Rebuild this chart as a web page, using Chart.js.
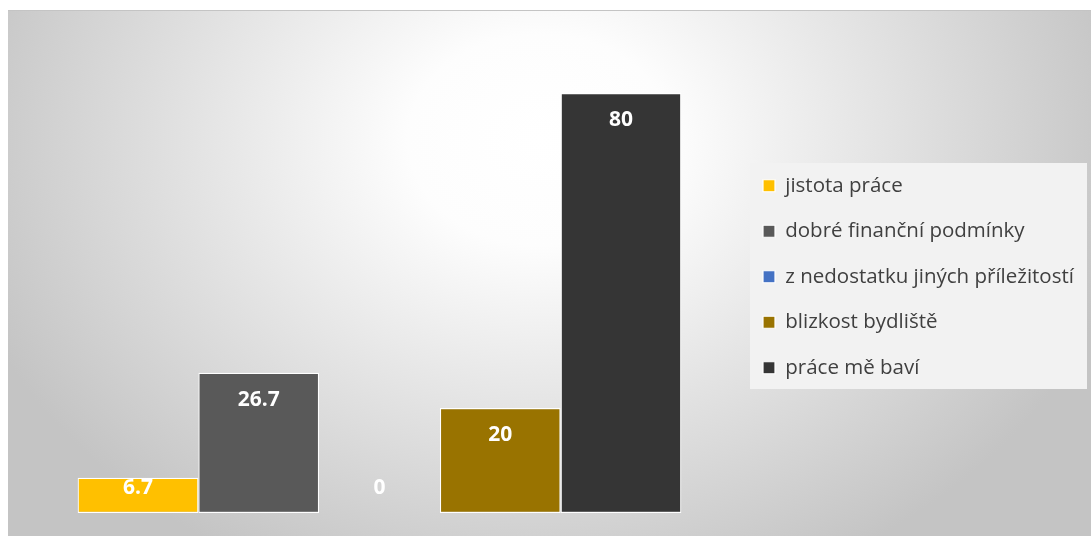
<!DOCTYPE html>
<html lang="cs">
<head>
<meta charset="utf-8">
<title>Proč pracujete</title>
<script src="https://cdn.jsdelivr.net/npm/chart.js@4/dist/chart.umd.min.js"></script>
<style>
  html, body { margin: 0; padding: 0; background: #ffffff; }
  .frame {
    position: absolute;
    left: 8px;
    top: 10px;
    width: 1083px;
    height: 525px;
    border-top: 1px solid #c4c4c4;
  }
  canvas { display: block; }
</style>
</head>
<body>
<div class="frame">
  <canvas id="duvody" width="1083" height="525"></canvas>
</div>
<script>
// kategorie (jen jedna skupina sloupců)
const CATEGORIES = [''];

// názvy řad
const SERIES_NAMES = [
  'jistota práce',
  'dobré finanční podmínky',
  'z nedostatku jiných příležitostí',
  'blizkost bydliště',
  'práce mě baví',
];

// hodnoty řad (%)
const SERIES_VALUES = [6.7, 26.7, 0, 20, 80];

// barvy řad
const SERIES_COLORS = ['#ffc000', '#595959', '#4472c4', '#997300', '#353535'];

(function () {
  const ctx = document.getElementById('duvody');

  // legenda
  const LEGEND_FONT = { family: '"Open Sans", sans-serif', size: 20.5 };
  const LEGEND_BOX = 12;
  const LEGEND_PADDING = 25;
  const LEGEND_LEFT = 730; // levý okraj legendy = pravý okraj grafu

  // šířka legendy podle nejdelšího textu -> pravý okraj layoutu
  function rightPadding() {
    const m = document.createElement('canvas').getContext('2d');
    m.font = LEGEND_FONT.size + 'px ' + LEGEND_FONT.family;
    const longest = Math.max.apply(null, SERIES_NAMES.map(function (t) { return m.measureText(t).width; }));
    const legendWidth = LEGEND_PADDING + LEGEND_BOX + LEGEND_FONT.size / 2 + longest + 10;
    return Math.max(0, ctx.width - LEGEND_LEFT - legendWidth);
  }

  // pozadí s eliptickým přechodem + podklad legendy
  const backgroundPlugin = {
    id: 'pozadi',
    beforeDraw(chart) {
      const c = chart.ctx;
      const w = chart.width;
      const h = chart.height;
      const cx = 532;
      const cy = 129;
      const sy = 0.8;
      c.save();
      c.translate(cx, cy);
      c.scale(1, sy);
      const g = c.createRadialGradient(0, 0, 0, 0, 0, 600);
      g.addColorStop(0, '#ffffff');
      g.addColorStop(0.22, '#fdfdfd');
      g.addColorStop(1, '#c4c4c4');
      c.fillStyle = g;
      c.fillRect(-cx, -cy / sy, w, h / sy);
      c.restore();

      // světlý obdélník pod legendou
      const boxes = chart.legend.legendHitBoxes;
      if (boxes && boxes.length) {
        const first = boxes[0];
        const last = boxes[boxes.length - 1];
        const left = first.left - 13;
        const top = first.top - 12.5;
        const bottom = last.top + last.height + 11;
        c.save();
        c.fillStyle = '#f2f2f2';
        c.fillRect(left, top, w - 4 - left, bottom - top);
        c.restore();
      }
    },
  };

  // popisky hodnot uvnitř sloupců
  const valueLabelsPlugin = {
    id: 'popisky',
    afterDatasetsDraw(chart) {
      const c = chart.ctx;
      c.save();
      c.font = 'bold 21px "Open Sans", sans-serif';
      c.fillStyle = '#ffffff';
      c.textAlign = 'center';
      c.textBaseline = 'middle';
      chart.data.datasets.forEach(function (ds, i) {
        const meta = chart.getDatasetMeta(i);
        meta.data.forEach(function (bar, j) {
          const y = Math.min(bar.y + 27, bar.base - 25);
          c.fillText(String(ds.data[j]), bar.x, y);
        });
      });
      c.restore();
    },
  };

  new Chart(ctx, {
    type: 'bar',
    data: {
      labels: CATEGORIES,
      datasets: SERIES_NAMES.map(function (name, i) {
        return {
          label: name,
          data: [SERIES_VALUES[i]],
          backgroundColor: SERIES_COLORS[i],
          borderColor: '#ffffff',
          borderWidth: 1.2,
          borderSkipped: false,
          barPercentage: 1,
          categoryPercentage: 0.842,
        };
      }),
    },
    options: {
      responsive: false,
      animation: false,
      layout: {
        padding: { top: 29.5, bottom: 23, left: 13, right: rightPadding() },
      },
      plugins: {
        tooltip: { enabled: false },
        legend: {
          display: true,
          position: 'right',
          labels: {
            boxWidth: LEGEND_BOX,
            boxHeight: LEGEND_BOX,
            padding: LEGEND_PADDING,
            color: '#404040',
            font: LEGEND_FONT,
          },
        },
      },
      scales: {
        x: { display: false, grid: { display: false } },
        y: { display: false, min: 0, max: 90, grid: { display: false } },
      },
    },
    plugins: [backgroundPlugin, valueLabelsPlugin],
  });
})();
</script>
</body>
</html>
